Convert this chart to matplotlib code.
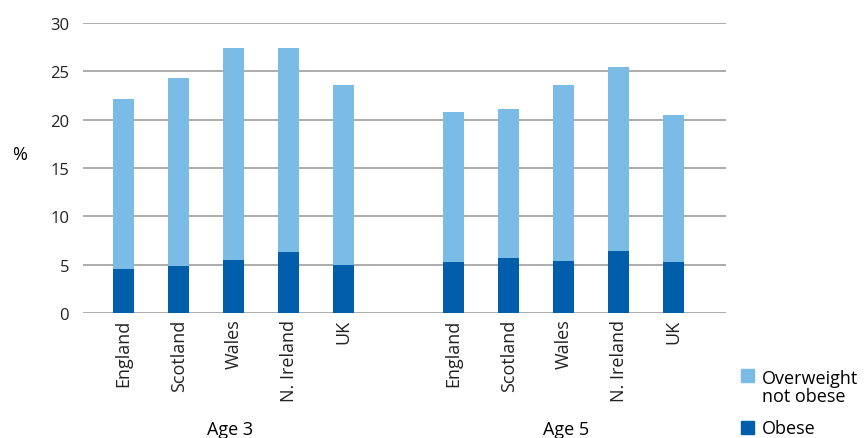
# Overweight and obesity by country, age 3 and age 5
import matplotlib.pyplot as plt
import numpy as np

plt.rcParams['font.family'] = ['Open Sans', 'DejaVu Sans']

countries = ['England', 'Scotland', 'Wales', 'N. Ireland', 'UK']
groups = ['Age 3', 'Age 5']
# total overweight (incl. obese) and obese, in %
total_age3 = [22.1, 24.3, 27.4, 27.4, 23.6]
obese_age3 = [4.6, 4.9, 5.5, 6.3, 5.0]
total_age5 = [20.8, 21.1, 23.6, 25.4, 20.5]
obese_age5 = [5.3, 5.7, 5.4, 6.4, 5.3]

light = '#7bbce7'
dark = '#005eaa'

obese = np.array(obese_age3 + obese_age5)
over = np.array(total_age3 + total_age5) - obese
x = np.array([0, 1, 2, 3, 4, 6, 7, 8, 9, 10])
labels = countries + countries

fig = plt.figure(figsize=(8.64, 4.39), dpi=100)
ax = fig.add_axes([83/864, 1-314/439, (726-83)/864, (314-24)/439])

ax.bar(x, obese, width=0.38, color=dark, zorder=3)
ax.bar(x, over, width=0.38, bottom=obese, color=light, zorder=3)

ax.set_ylim(0, 30)
ax.set_xlim(-0.74, 10.95)
ax.set_yticks(range(0, 31, 5))
ax.yaxis.grid(True, color='#a6a6a6', linewidth=1.3)
ax.set_axisbelow(True)
for s in ax.spines.values():
    s.set_visible(False)
ax.tick_params(axis='y', length=0, pad=10, labelsize=12, labelcolor='#222222')
ax.set_xticks(x)
ax.set_xticklabels(labels, rotation=90, fontsize=13, color='#222222')
ax.tick_params(axis='x', length=0, pad=4)

fig.text(20/864, 1-155/439, '%', fontsize=13, ha='center', va='center')
fig.text(230/864, 1-430/439, groups[0], fontsize=13, ha='center', va='center')
fig.text(566/864, 1-430/439, groups[1], fontsize=13, ha='center', va='center')

# legend
fig.patches.append(plt.Rectangle((741/864, 1-383/439), 13/864, 13/439,
                                 transform=fig.transFigure, color=light))
fig.text(762/864, 1-388/439, 'Overweight\nnot obese', fontsize=13,
         ha='left', va='center', linespacing=1.0)
fig.patches.append(plt.Rectangle((741/864, 1-435/439), 13/864, 13/439,
                                 transform=fig.transFigure, color=dark))
fig.text(762/864, 1-429/439, 'Obese', fontsize=13, ha='left', va='center')

fig.savefig('out.png', dpi=100)
